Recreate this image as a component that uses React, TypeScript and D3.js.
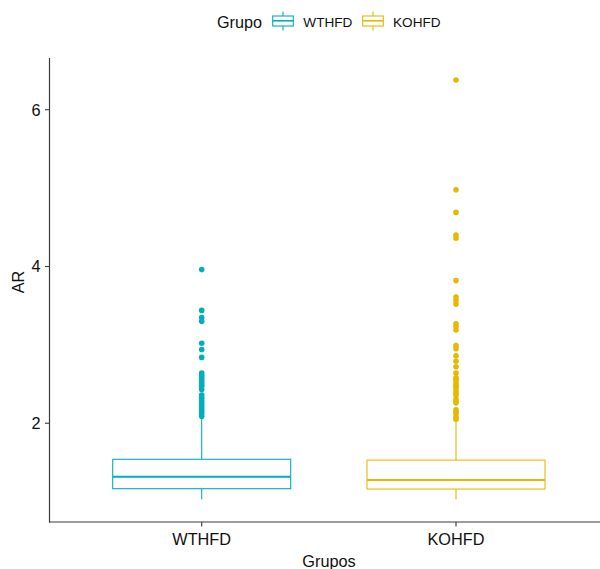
import React from "react";
import * as d3 from "d3";

// grupos y colores
const groups = ["WTHFD", "KOHFD"];
const colors = ["#00AFBB", "#E7B800"];

// resumen de cajas
const whiskerLow = [1.03, 1.03];
const q1 = [1.165, 1.16];
const median = [1.318, 1.276];
const q3 = [1.54, 1.53];
const whiskerHigh = [2.085, 2.04];

// valores atípicos
const outliersWT = [
  3.96, 3.44, 3.35, 3.3, 3.02, 2.94, 2.84, 2.64, 2.61, 2.58, 2.55, 2.52, 2.49,
  2.47, 2.43, 2.36, 2.33, 2.3, 2.27, 2.24, 2.21, 2.18, 2.15, 2.12, 2.09,
];
const outliersKO = [
  6.38, 4.98, 4.69, 4.4, 4.36, 3.82, 3.61, 3.57, 3.52, 3.27, 3.23, 3.19, 2.99,
  2.95, 2.86, 2.79, 2.72, 2.64, 2.58, 2.56, 2.54, 2.5, 2.47, 2.45, 2.41, 2.38,
  2.36, 2.31, 2.28, 2.26, 2.17, 2.14, 2.12, 2.08, 2.05,
];
const outliers = [outliersWT, outliersKO];

const yTicks = [2, 4, 6];

const W = 600;
const H = 569;
const font = "'Liberation Sans', Arial, sans-serif";

export default function App() {
  const x = d3.scalePoint<string>().domain(groups).range([201.7, 456]);
  const y = d3.scaleLinear().domain([0.74, 6.66]).range([522, 58]);
  const boxW = 178;
  const axisColor = "#3a3a3a";
  const txt = "#111";

  return (
    <svg
      width={W}
      height={H}
      style={{ position: "absolute", left: 0, top: 0, background: "#fff" }}
      fontFamily={font}
    >
      {/* legend */}
      <text x={217} y={27.5} fontSize={16.2} fill={txt}>
        Grupo
      </text>
      {groups.map((g, i) => {
        const lx = [272.7, 362.7][i];
        const tx = [303.3, 393][i];
        return (
          <g key={g}>
            <line x1={lx + 10.3} x2={lx + 10.3} y1={11.5} y2={30.5} stroke={colors[i]} strokeWidth={1.1} />
            <rect x={lx} y={16} width={20.6} height={10} fill="#fff" stroke={colors[i]} strokeWidth={1.1} />
            <line x1={lx} x2={lx + 20.6} y1={20.8} y2={20.8} stroke={colors[i]} strokeWidth={1.6} />
            <text x={tx} y={26.5} fontSize={13.6} fill={txt}>
              {g}
            </text>
          </g>
        );
      })}

      {/* boxes */}
      {groups.map((g, i) => {
        const cx = x(g)!;
        return (
          <g key={g}>
            <line x1={cx} x2={cx} y1={y(q3[i])} y2={y(whiskerHigh[i])} stroke={colors[i]} strokeWidth={1.1} />
            <line x1={cx} x2={cx} y1={y(q1[i])} y2={y(whiskerLow[i])} stroke={colors[i]} strokeWidth={1.1} />
            <rect
              x={cx - boxW / 2}
              y={y(q3[i])}
              width={boxW}
              height={y(q1[i]) - y(q3[i])}
              fill="#fff"
              stroke={colors[i]}
              strokeWidth={1.1}
            />
            <line x1={cx - boxW / 2} x2={cx + boxW / 2} y1={y(median[i])} y2={y(median[i])} stroke={colors[i]} strokeWidth={2} />
            {outliers[i].map((v, j) => (
              <circle key={j} cx={cx} cy={y(v)} r={2.8} fill={colors[i]} />
            ))}
          </g>
        );
      })}

      {/* y axis */}
      <line x1={49.5} x2={49.5} y1={58} y2={522.5} stroke={axisColor} strokeWidth={1.2} />
      {yTicks.map((t) => (
        <g key={t}>
          <line x1={45} x2={49.5} y1={y(t)} y2={y(t)} stroke={axisColor} strokeWidth={1.1} />
          <text x={40.5} y={y(t)} dy="0.36em" textAnchor="end" fontSize={16.3} fill={txt}>
            {t}
          </text>
        </g>
      ))}
      <text
        transform={`translate(24,${282}) rotate(-90)`}
        textAnchor="middle"
        fontSize={16.3}
        fill={txt}
      >
        AR
      </text>

      {/* x axis */}
      <line x1={49} x2={W} y1={522} y2={522} stroke={axisColor} strokeWidth={1.2} />
      {groups.map((g) => (
        <g key={g}>
          <line x1={x(g)!} x2={x(g)!} y1={522} y2={526.5} stroke={axisColor} strokeWidth={1.1} />
          <text x={x(g)!} y={544.5} textAnchor="middle" fontSize={16.3} fill={txt}>
            {g}
          </text>
        </g>
      ))}
      <text x={329} y={566.5} textAnchor="middle" fontSize={16.3} fill={txt}>
        Grupos
      </text>
    </svg>
  );
}
